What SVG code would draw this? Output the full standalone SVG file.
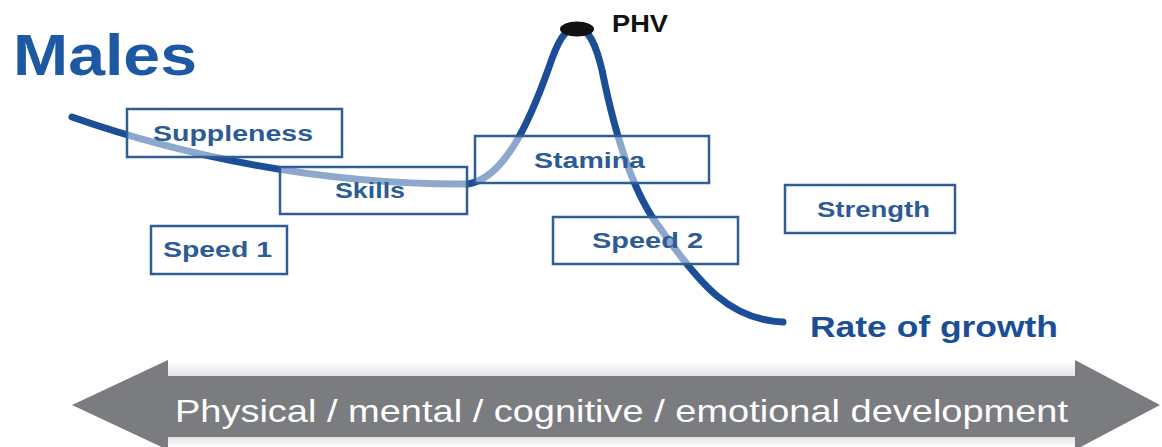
<svg xmlns="http://www.w3.org/2000/svg" width="1162" height="447" viewBox="0 0 1162 447">
  <defs>
    <linearGradient id="bandTop" x1="0" y1="0" x2="0" y2="1">
      <stop offset="0" stop-color="#ffffff"/>
      <stop offset="1" stop-color="#e3e3e4"/>
    </linearGradient>
    <linearGradient id="bandBot" x1="0" y1="0" x2="0" y2="1">
      <stop offset="0" stop-color="#e3e3e4"/>
      <stop offset="1" stop-color="#ffffff"/>
    </linearGradient>
  </defs>
  <style>
    .box { fill: #ffffff; fill-opacity: 0.5; stroke: #2f5d96; stroke-width: 2.5; }
    .lbl { font-family: "Liberation Sans", Arial, sans-serif; font-weight: bold; fill: #2d5b93; font-size: 22px; }
    .curve { fill: none; stroke: #1c4e98; stroke-width: 7; stroke-linecap: round; }
  </style>
  <rect width="1162" height="447" fill="#ffffff"/>

  <g id="title">
    <text x="13" y="75" font-family="Liberation Sans, Arial, sans-serif" font-weight="bold" font-size="58" fill="#1d58a4" textLength="184" lengthAdjust="spacingAndGlyphs">Males</text>
  </g>

  <g id="development-arrow">
    <rect x="168" y="362" width="910" height="14" fill="url(#bandTop)"/>
    <rect x="168" y="437" width="910" height="10" fill="url(#bandBot)"/>
    <polygon points="72,405 168,360 168,376 1075,376 1075,360 1160,405 1075,450 1075,437 168,437 168,450" fill="#7b7c7f"/>
    <text x="175" y="422" font-family="Liberation Sans, Arial, sans-serif" font-size="32" fill="#ffffff" textLength="893" lengthAdjust="spacingAndGlyphs">Physical / mental / cognitive / emotional development</text>
  </g>

  <g id="connectors">
    <path class="curve" d="M72,117 C180,155 320,185 468,184 C505,178 530,120 548,70 C558,40 565,28 577,28 C589,28 596,45 602,70 C612,120 630,190 660,228 C700,285 730,320 783,322"/>
  </g>

  <g id="phv">
    <ellipse cx="577" cy="29" rx="17" ry="7.5" fill="#111111"/>
    <text x="612" y="32" font-family="Liberation Sans, Arial, sans-serif" font-weight="bold" font-size="23" fill="#111111" textLength="56" lengthAdjust="spacingAndGlyphs">PHV</text>
  </g>

  <g id="rate-of-growth">
    <text x="810" y="337" font-family="Liberation Sans, Arial, sans-serif" font-weight="bold" font-size="29" fill="#1c4e98" textLength="248" lengthAdjust="spacingAndGlyphs">Rate of growth</text>
  </g>

  <g id="suppleness">
    <rect class="box" x="127" y="109" width="215" height="48"/>
    <text class="lbl" x="153" y="141" font-size="23" textLength="160" lengthAdjust="spacingAndGlyphs">Suppleness</text>
  </g>
  <g id="skills">
    <rect class="box" x="280" y="167" width="187" height="47"/>
    <text class="lbl" x="335" y="198" textLength="70" lengthAdjust="spacingAndGlyphs">Skills</text>
  </g>
  <g id="speed1">
    <rect class="box" x="151" y="226" width="136" height="48"/>
    <text class="lbl" x="163" y="257" textLength="109" lengthAdjust="spacingAndGlyphs">Speed 1</text>
  </g>
  <g id="stamina">
    <rect class="box" x="475" y="136" width="234" height="47"/>
    <text class="lbl" x="534" y="168" textLength="111" lengthAdjust="spacingAndGlyphs">Stamina</text>
  </g>
  <g id="speed2">
    <rect class="box" x="553" y="217" width="185" height="47"/>
    <text class="lbl" x="592" y="248" textLength="111" lengthAdjust="spacingAndGlyphs">Speed 2</text>
  </g>
  <g id="strength">
    <rect class="box" x="785" y="185" width="170" height="48"/>
    <text class="lbl" x="817" y="217" textLength="113" lengthAdjust="spacingAndGlyphs">Strength</text>
  </g>
</svg>
